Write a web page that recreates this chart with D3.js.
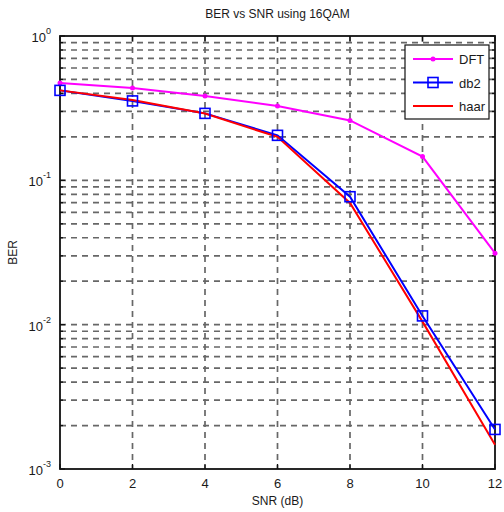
<!DOCTYPE html>
<html>
<head>
<meta charset="utf-8">
<script src="https://cdn.jsdelivr.net/npm/d3@7"></script>
<style>
body { margin: 0; background: #fff; }
text { font-family: "Liberation Sans", Arial, sans-serif; fill: #1a1a1a; }
</style>
</head>
<body>
<svg id="chart" width="504" height="512"></svg>
<script>
// data
var snr = [0, 2, 4, 6, 8, 10, 12];
var berDFT = [0.472, 0.436, 0.384, 0.327, 0.26, 0.146, 0.0313];
var berDb2 = [0.42, 0.355, 0.291, 0.205, 0.077, 0.0115, 0.00188];
var berHaar = [0.42, 0.36, 0.29, 0.2, 0.0697, 0.0105, 0.00147];
var xTicks = [0, 2, 4, 6, 8, 10, 12];
var decades = [-3, -2, -1, 0];

var svg = d3.select("#chart");
var pLeft = 60, pRight = 495, pTop = 36, pBottom = 469;

var x = d3.scaleLinear().domain([0, 12]).range([pLeft, pRight]);
var y = d3.scaleLog().domain([1e-3, 1]).range([pBottom, pTop]);

// grid
var minor = [];
for (var e = -3; e < 0; e++) {
  for (var m = 1; m <= 9; m++) minor.push(m * Math.pow(10, e));
}
var grid = svg.append("g").attr("stroke", "#4d4d4d").attr("stroke-width", 1.7)
  .attr("stroke-dasharray", "6,5").attr("opacity", 0.85);
grid.selectAll("line.h").data(minor.filter(function(v){ return v > 1e-3; }))
  .enter().append("line")
  .attr("x1", pLeft).attr("x2", pRight)
  .attr("y1", function(d){ return y(d); }).attr("y2", function(d){ return y(d); });
grid.selectAll("line.v").data(xTicks.slice(1, -1))
  .enter().append("line")
  .attr("y1", pTop).attr("y2", pBottom)
  .attr("x1", function(d){ return x(d); }).attr("x2", function(d){ return x(d); });

// axes box + inner ticks
var ax = svg.append("g").attr("stroke", "#111").attr("stroke-width", 1.3);
ax.append("rect").attr("x", pLeft).attr("y", pTop).attr("width", pRight - pLeft).attr("height", pBottom - pTop)
  .attr("fill", "none").attr("stroke-width", 1.8);
xTicks.forEach(function(t){
  ax.append("line").attr("x1", x(t)).attr("x2", x(t)).attr("y1", pBottom).attr("y2", pBottom - 5);
  ax.append("line").attr("x1", x(t)).attr("x2", x(t)).attr("y1", pTop).attr("y2", pTop + 5);
});
minor.concat([1]).forEach(function(v){
  var len = (Math.abs(Math.log10(v) - Math.round(Math.log10(v))) < 1e-9) ? 5 : 3;
  ax.append("line").attr("x1", pLeft).attr("x2", pLeft + len).attr("y1", y(v)).attr("y2", y(v));
  ax.append("line").attr("x1", pRight).attr("x2", pRight - len).attr("y1", y(v)).attr("y2", y(v));
});

// tick labels
svg.selectAll("text.xt").data(xTicks).enter().append("text")
  .attr("x", function(d){ return x(d); }).attr("y", pBottom + 19)
  .attr("text-anchor", "middle").attr("font-size", 13).text(function(d){ return d; });

decades.forEach(function(d){
  var t = svg.append("text").attr("x", pLeft - 9).attr("y", y(Math.pow(10, d)) + 6)
    .attr("text-anchor", "end").attr("font-size", 13);
  t.append("tspan").text("10");
  t.append("tspan").attr("dy", -8).attr("font-size", 9).text(d);
});

// titles
svg.append("text").attr("x", (pLeft + pRight) / 2).attr("y", 18).attr("text-anchor", "middle")
  .attr("font-size", 12).text("BER vs SNR using 16QAM");
svg.append("text").attr("x", (pLeft + pRight) / 2).attr("y", 505).attr("text-anchor", "middle")
  .attr("font-size", 12).text("SNR (dB)");
svg.append("text").attr("transform", "translate(17," + ((pTop + pBottom) / 2) + ") rotate(-90)")
  .attr("text-anchor", "middle").attr("font-size", 12).text("BER");

// series
var line = function(vals){
  return d3.line().x(function(d, i){ return x(snr[i]); }).y(function(d){ return y(d); })(vals);
};
var plot = svg.append("g");
plot.append("path").attr("d", line(berDFT)).attr("fill", "none").attr("stroke", "#ff00ff").attr("stroke-width", 2);
plot.selectAll("circle.dft").data(berDFT).enter().append("circle")
  .attr("cx", function(d, i){ return x(snr[i]); }).attr("cy", function(d){ return y(d); })
  .attr("r", 2.5).attr("fill", "#ff00ff");
plot.append("path").attr("d", line(berDb2)).attr("fill", "none").attr("stroke", "#0000ff").attr("stroke-width", 2);
plot.append("path").attr("d", line(berHaar)).attr("fill", "none").attr("stroke", "#ff0000").attr("stroke-width", 2);
plot.selectAll("rect.db2").data(berDb2).enter().append("rect")
  .attr("x", function(d, i){ return x(snr[i]) - 5; }).attr("y", function(d){ return y(d) - 5; })
  .attr("width", 10).attr("height", 10).attr("fill", "none").attr("stroke", "#0000ff").attr("stroke-width", 1.6);

// legend
var lg = svg.append("g");
lg.append("rect").attr("x", 405).attr("y", 45).attr("width", 84).attr("height", 74)
  .attr("fill", "#fff").attr("stroke", "#111").attr("stroke-width", 1.2);
var items = [
  { name: "DFT", color: "#ff00ff" },
  { name: "db2", color: "#0000ff" },
  { name: "haar", color: "#ff0000" }
];
items.forEach(function(it, i){
  var yy = 59 + i * 23.5;
  lg.append("line").attr("x1", 413).attr("x2", 453).attr("y1", yy).attr("y2", yy)
    .attr("stroke", it.color).attr("stroke-width", 2);
  if (i === 0) lg.append("circle").attr("cx", 433).attr("cy", yy).attr("r", 2.5).attr("fill", it.color);
  if (i === 1) lg.append("rect").attr("x", 428).attr("y", yy - 5).attr("width", 10).attr("height", 10)
    .attr("fill", "none").attr("stroke", it.color).attr("stroke-width", 1.6);
  lg.append("text").attr("x", 459).attr("y", yy + 5).attr("font-size", 13).text(it.name);
});
</script>
</body>
</html>
